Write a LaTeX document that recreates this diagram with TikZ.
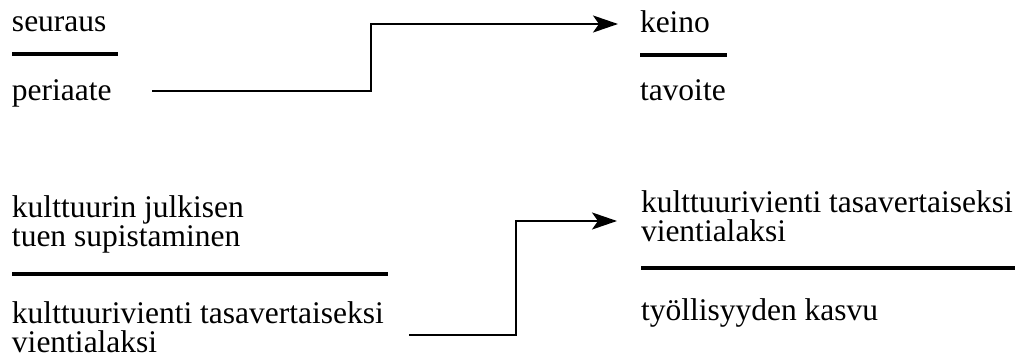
\documentclass[tikz,border=0pt]{standalone}
\usepackage{fontspec}
\setmainfont{Liberation Serif}
\usetikzlibrary{arrows.meta}
\begin{document}
\begin{tikzpicture}[x=1pt,y=-1pt,
  lbl/.style={anchor=base west,inner sep=0pt,outer sep=0pt,font=\fontsize{31.5}{30}\selectfont},
  rulebar/.style={line width=3.2pt},
  conn/.style={line width=2.5pt,-{Stealth[length=25pt,width=17pt,inset=6pt]}}]
\useasboundingbox[fill=white] (0,0) rectangle (1023,361);
% top left
\node[lbl] (seuraus) at (12,31.7) {seuraus};
\draw[rulebar] (12,54) coordinate (r1a) -- (118,54) coordinate (r1b);
\node[lbl] (periaate) at (12,100) {periaate};
% top right
\node[lbl] (keino) at (640,33) {keino};
\draw[rulebar] (640,55) coordinate (r2a) -- (727,55) coordinate (r2b);
\node[lbl] (tavoite) at (640,100) {tavoite};
% top connector
\coordinate (c1s) at (152,91);
\coordinate (c1e) at (618,24);
\draw[conn] (c1s) -- (371,91) -- (371,24) -- (c1e);
% bottom left
\node[lbl] (bl1) at (12,217) {kulttuurin julkisen};
\node[lbl] (bl2) at (12,246) {tuen supistaminen};
\draw[rulebar] (12,274) coordinate (r3a) -- (388,274) coordinate (r3b);
\node[lbl] (bl3) at (12,323) {kulttuurivienti tasavertaiseksi};
\node[lbl] (bl4) at (12,352) {vientialaksi};
% bottom right
\node[lbl] (br1) at (641,212) {kulttuurivienti tasavertaiseksi};
\node[lbl] (br2) at (641,241) {vientialaksi};
\draw[rulebar] (641,268) coordinate (r4a) -- (1015,268) coordinate (r4b);
\node[lbl] (br3) at (641,320) {työllisyyden kasvu};
% bottom connector
\coordinate (c2s) at (409,335);
\coordinate (c2e) at (617,221);
\draw[conn] (c2s) -- (516,335) -- (516,221) -- (c2e);
\end{tikzpicture}
\end{document}
